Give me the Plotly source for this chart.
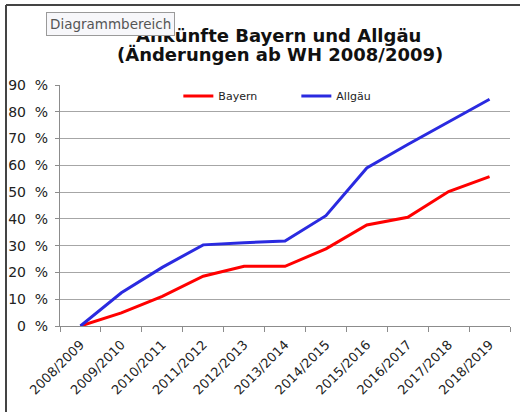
import plotly.graph_objects as go

categories = ["2008/2009", "2009/2010", "2010/2011", "2011/2012", "2012/2013", "2013/2014",
              "2014/2015", "2015/2016", "2016/2017", "2017/2018", "2018/2019"]
bayern = [0, 4.9, 11.1, 18.6, 22.3, 22.3, 28.8, 37.7, 40.6, 50.2, 55.8]
allgaeu = [0, 12.4, 21.9, 30.3, 31.1, 31.7, 41.2, 59.0, 67.8, 76.3, 84.7]
y_ticks = [0, 10, 20, 30, 40, 50, 60, 70, 80, 90]
y_tick_labels = ["0\u00a0\u00a0%", "10\u00a0\u00a0%", "20\u00a0\u00a0%", "30\u00a0\u00a0%", "40\u00a0\u00a0%",
                 "50\u00a0\u00a0%", "60\u00a0\u00a0%", "70\u00a0\u00a0%", "80\u00a0\u00a0%", "90\u00a0\u00a0%"]
title_lines = ["Ankünfte Bayern und Allgäu", "(Änderungen ab WH 2008/2009)"]

FONT = "DejaVu Sans"
W, H = 520, 412
PL, PR, PT, PB = 60, 10, 85, 86
PW, PH = W - PL - PR, H - PT - PB


def px(xp):
    return (xp - PL) / PW


def py(yp):
    return 1 + (PT - yp) / PH


fig = go.Figure()
fig.add_trace(go.Scatter(x=categories, y=bayern, mode="lines", name="Bayern",
                         line=dict(color="#ff0000", width=3)))
fig.add_trace(go.Scatter(x=categories, y=allgaeu, mode="lines", name="Allgäu",
                         line=dict(color="#2a2ae0", width=3)))

fig.update_layout(
    width=W, height=H,
    margin=dict(l=PL, r=PR, t=PT, b=PB, autoexpand=False),
    paper_bgcolor="white", plot_bgcolor="white",
    font=dict(family=FONT, color="#222222"),
    showlegend=True,
    legend=dict(orientation="h", x=0.263, xanchor="left", y=1.015, yanchor="top",
                font=dict(size=11, color="#222222"), bgcolor="rgba(0,0,0,0)",
                entrywidth=73, entrywidthmode="pixels", tracegroupgap=0),
)

fig.update_xaxes(type="category", showgrid=False, showline=True, linecolor="#8c8c8c", linewidth=1,
                 ticks="outside", tickson="boundaries", ticklen=5, tickcolor="#8c8c8c",
                 tickangle=-45, tickfont=dict(size=13, family=FONT, color="#222222"),
                 ticklabelstandoff=5,
                 range=[-0.5, len(categories) - 0.5], automargin=False)
fig.update_yaxes(range=[0, 90], tickvals=y_ticks, ticktext=y_tick_labels, showgrid=True,
                 gridcolor="#a6a6a6", gridwidth=1, showline=True, linecolor="#8c8c8c",
                 linewidth=1, ticks="outside", ticklen=4, tickcolor="#8c8c8c",
                 tickfont=dict(size=14, family=FONT, color="#222222"), zeroline=False,
                 ticklabelstandoff=4, automargin=False)

# title (two lines)
for text, ymid, xc in [(title_lines[0], 35, 278), (title_lines[1], 54, 280)]:
    fig.add_annotation(text="<b>" + text + "</b>", xref="paper", yref="paper",
                       x=px(xc), y=py(ymid), xanchor="center", yanchor="middle",
                       showarrow=False, font=dict(family=FONT, size=18, color="#111111"))

# chart frame (left and top edges)
fig.add_shape(type="line", xref="paper", yref="paper",
              x0=px(6), x1=px(6), y0=py(5), y1=py(H + 2),
              line=dict(color="#444444", width=2))
fig.add_shape(type="line", xref="paper", yref="paper",
              x0=px(6), x1=px(W + 2), y0=py(5), y1=py(5),
              line=dict(color="#444444", width=2))

# tooltip box
fig.add_annotation(text="Diagrammbereich", xref="paper", yref="paper",
                   x=px(46), y=py(12), xanchor="left", yanchor="top",
                   showarrow=False, font=dict(family=FONT, size=13.5, color="#555555"),
                   bgcolor="#f7f7fa", bordercolor="#9a9a9a", borderwidth=1, borderpad=3)

fig.write_html("out.html", config={"displayModeBar": False},
               post_script="document.body.style.margin='0';")
